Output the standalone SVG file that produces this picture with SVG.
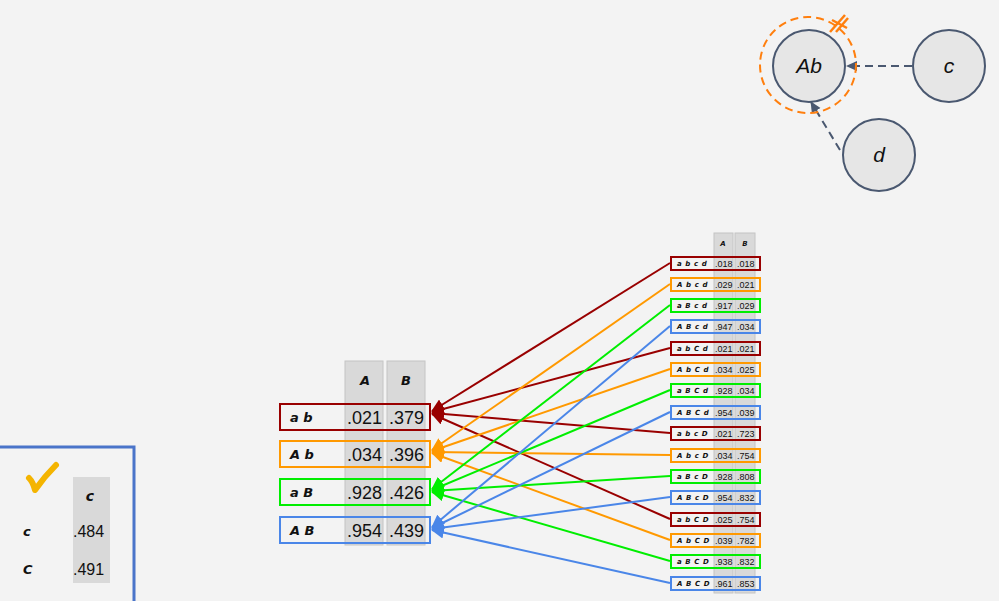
<svg xmlns="http://www.w3.org/2000/svg" width="999" height="601" viewBox="0 0 999 601">
<style>
.lbl{font-family:"DejaVu Sans",sans-serif;font-weight:bold;font-style:italic;fill:#111}
.num{font-family:"Liberation Sans",Arial,sans-serif;fill:#111}
.col{fill:#d9d9d9;stroke:#c4c4c4}
.nd{fill:#e6e6e6;stroke:#4a5870;stroke-width:2}
.nt{font-family:"Liberation Sans",Arial,sans-serif;font-style:italic;font-size:21px;fill:#111;text-anchor:middle}
.sl{font-family:"DejaVu Sans",sans-serif;font-weight:bold;font-style:italic;fill:#111;font-size:7px;letter-spacing:0.6px}
</style>
<defs>
<marker id="mr" markerWidth="13" markerHeight="12" refX="12" refY="6" orient="auto" markerUnits="userSpaceOnUse" viewBox="0 0 13 12"><path d="M0,0L13,6L0,12z" fill="#990000"/></marker>
<marker id="mo" markerWidth="13" markerHeight="12" refX="12" refY="6" orient="auto" markerUnits="userSpaceOnUse" viewBox="0 0 13 12"><path d="M0,0L13,6L0,12z" fill="#ff9900"/></marker>
<marker id="mg" markerWidth="13" markerHeight="12" refX="12" refY="6" orient="auto" markerUnits="userSpaceOnUse" viewBox="0 0 13 12"><path d="M0,0L13,6L0,12z" fill="#00ee00"/></marker>
<marker id="mb" markerWidth="13" markerHeight="12" refX="12" refY="6" orient="auto" markerUnits="userSpaceOnUse" viewBox="0 0 13 12"><path d="M0,0L13,6L0,12z" fill="#4a86e8"/></marker>
<marker id="md" markerWidth="12" markerHeight="12" refX="10" refY="6" orient="auto" markerUnits="userSpaceOnUse" viewBox="0 0 12 12"><path d="M0,1L11,6L0,11z" fill="#4a5870"/></marker>
</defs>
<rect width="999" height="601" fill="#f3f3f3"/>

<g id="big-table">
<rect class="col" x="345" y="361" width="38" height="184"/>
<rect class="col" x="387" y="361" width="38" height="184"/>
<text class="lbl" x="365" y="385" font-size="13" text-anchor="middle">A</text>
<text class="lbl" x="406" y="385" font-size="13" text-anchor="middle">B</text>
<g id="r-ab"><rect x="280" y="404" width="150" height="26" fill="none" stroke="#990000" stroke-width="2"/><text class="lbl" x="290" y="422" font-size="13">a b</text><text class="num" x="347" y="424" font-size="18">.021</text><text class="num" x="389" y="424" font-size="18">.379</text></g>
<g id="r-Ab"><rect x="280" y="441" width="150" height="26" fill="none" stroke="#ff9900" stroke-width="2"/><text class="lbl" x="290" y="459" font-size="13">A b</text><text class="num" x="347" y="461" font-size="18">.034</text><text class="num" x="389" y="461" font-size="18">.396</text></g>
<g id="r-aB"><rect x="280" y="479" width="150" height="26" fill="none" stroke="#00ee00" stroke-width="2"/><text class="lbl" x="290" y="497" font-size="13">a B</text><text class="num" x="347" y="499" font-size="18">.928</text><text class="num" x="389" y="499" font-size="18">.426</text></g>
<g id="r-AB"><rect x="280" y="517" width="150" height="26" fill="none" stroke="#4a86e8" stroke-width="2"/><text class="lbl" x="290" y="535" font-size="13">A B</text><text class="num" x="347" y="537" font-size="18">.954</text><text class="num" x="389" y="537" font-size="18">.439</text></g>
</g>

<g id="small-table">
<rect class="col" x="714" y="233" width="19" height="360"/>
<rect class="col" x="735" y="233" width="20" height="360"/>
<text class="lbl" x="723" y="246" font-size="7" text-anchor="middle">A</text>
<text class="lbl" x="745" y="246" font-size="7" text-anchor="middle">B</text>
<g id="s1"><rect x="671" y="257" width="89" height="13" fill="none" stroke="#990000" stroke-width="2"/><text class="sl" x="677" y="266">a b c d</text><text class="num" x="715" y="267" font-size="9">.018</text><text class="num" x="737" y="267" font-size="9">.018</text></g>
<g id="s2"><rect x="671" y="278" width="89" height="13" fill="none" stroke="#ff9900" stroke-width="2"/><text class="sl" x="677" y="287">A b c d</text><text class="num" x="715" y="288" font-size="9">.029</text><text class="num" x="737" y="288" font-size="9">.021</text></g>
<g id="s3"><rect x="671" y="299" width="89" height="13" fill="none" stroke="#00ee00" stroke-width="2"/><text class="sl" x="677" y="308">a B c d</text><text class="num" x="715" y="309" font-size="9">.917</text><text class="num" x="737" y="309" font-size="9">.029</text></g>
<g id="s4"><rect x="671" y="320" width="89" height="13" fill="none" stroke="#4a86e8" stroke-width="2"/><text class="sl" x="677" y="329">A B c d</text><text class="num" x="715" y="330" font-size="9">.947</text><text class="num" x="737" y="330" font-size="9">.034</text></g>
<g id="s5"><rect x="671" y="342" width="89" height="13" fill="none" stroke="#990000" stroke-width="2"/><text class="sl" x="677" y="351">a b C d</text><text class="num" x="715" y="352" font-size="9">.021</text><text class="num" x="737" y="352" font-size="9">.021</text></g>
<g id="s6"><rect x="671" y="363" width="89" height="13" fill="none" stroke="#ff9900" stroke-width="2"/><text class="sl" x="677" y="372">A b C d</text><text class="num" x="715" y="373" font-size="9">.034</text><text class="num" x="737" y="373" font-size="9">.025</text></g>
<g id="s7"><rect x="671" y="384" width="89" height="13" fill="none" stroke="#00ee00" stroke-width="2"/><text class="sl" x="677" y="393">a B C d</text><text class="num" x="715" y="394" font-size="9">.928</text><text class="num" x="737" y="394" font-size="9">.034</text></g>
<g id="s8"><rect x="671" y="406" width="89" height="13" fill="none" stroke="#4a86e8" stroke-width="2"/><text class="sl" x="677" y="415">A B C d</text><text class="num" x="715" y="416" font-size="9">.954</text><text class="num" x="737" y="416" font-size="9">.039</text></g>
<g id="s9"><rect x="671" y="427" width="89" height="13" fill="none" stroke="#990000" stroke-width="2"/><text class="sl" x="677" y="436">a b c D</text><text class="num" x="715" y="437" font-size="9">.021</text><text class="num" x="737" y="437" font-size="9">.723</text></g>
<g id="s10"><rect x="671" y="449" width="89" height="13" fill="none" stroke="#ff9900" stroke-width="2"/><text class="sl" x="677" y="458">A b c D</text><text class="num" x="715" y="459" font-size="9">.034</text><text class="num" x="737" y="459" font-size="9">.754</text></g>
<g id="s11"><rect x="671" y="470" width="89" height="13" fill="none" stroke="#00ee00" stroke-width="2"/><text class="sl" x="677" y="479">a B c D</text><text class="num" x="715" y="480" font-size="9">.928</text><text class="num" x="737" y="480" font-size="9">.808</text></g>
<g id="s12"><rect x="671" y="491" width="89" height="13" fill="none" stroke="#4a86e8" stroke-width="2"/><text class="sl" x="677" y="500">A B c D</text><text class="num" x="715" y="501" font-size="9">.954</text><text class="num" x="737" y="501" font-size="9">.832</text></g>
<g id="s13"><rect x="671" y="513" width="89" height="13" fill="none" stroke="#990000" stroke-width="2"/><text class="sl" x="677" y="522">a b C D</text><text class="num" x="715" y="523" font-size="9">.025</text><text class="num" x="737" y="523" font-size="9">.754</text></g>
<g id="s14"><rect x="671" y="534" width="89" height="13" fill="none" stroke="#ff9900" stroke-width="2"/><text class="sl" x="677" y="543">A b C D</text><text class="num" x="715" y="544" font-size="9">.039</text><text class="num" x="737" y="544" font-size="9">.782</text></g>
<g id="s15"><rect x="671" y="555" width="89" height="13" fill="none" stroke="#00ee00" stroke-width="2"/><text class="sl" x="677" y="564">a B C D</text><text class="num" x="715" y="565" font-size="9">.938</text><text class="num" x="737" y="565" font-size="9">.832</text></g>
<g id="s16"><rect x="671" y="577" width="89" height="13" fill="none" stroke="#4a86e8" stroke-width="2"/><text class="sl" x="677" y="586">A B C D</text><text class="num" x="715" y="587" font-size="9">.961</text><text class="num" x="737" y="587" font-size="9">.853</text></g>
</g>

<g id="connectors" stroke-width="2" fill="none">
<g stroke="#990000" marker-end="url(#mr)">
<line x1="670" y1="263" x2="432" y2="411"/><line x1="670" y1="348" x2="432" y2="412"/><line x1="670" y1="433" x2="432" y2="413"/><line x1="670" y1="519" x2="432" y2="414"/>
</g>
<g stroke="#ff9900" marker-end="url(#mo)">
<line x1="670" y1="284" x2="432" y2="450"/><line x1="670" y1="369" x2="432" y2="451"/><line x1="670" y1="455" x2="432" y2="452"/><line x1="670" y1="540" x2="432" y2="453"/>
</g>
<g stroke="#00ee00" marker-end="url(#mg)">
<line x1="670" y1="305" x2="432" y2="489"/><line x1="670" y1="390" x2="432" y2="490"/><line x1="670" y1="476" x2="432" y2="491"/><line x1="670" y1="561" x2="432" y2="492"/>
</g>
<g stroke="#4a86e8" marker-end="url(#mb)">
<line x1="670" y1="326" x2="432" y2="527"/><line x1="670" y1="412" x2="432" y2="528"/><line x1="670" y1="497" x2="432" y2="529"/><line x1="670" y1="583" x2="432" y2="530"/>
</g>
<g stroke="#4a5870" stroke-dasharray="8,5">
<line x1="912" y1="66" x2="847" y2="66" marker-end="url(#md)"/>
<line x1="840" y1="150" x2="811" y2="102" marker-end="url(#md)"/>
</g>
</g>

<g id="node-Ab">
<circle cx="808" cy="65" r="48" fill="none" stroke="#ff7f0e" stroke-width="2" stroke-dasharray="8,5"/>
<circle class="nd" cx="809" cy="66" r="36"/>
<text class="nt" x="809" y="73">Ab</text>
<g stroke="#ff7f0e" stroke-width="2.5"><line x1="830" y1="32" x2="845" y2="15"/><line x1="836" y1="32" x2="848" y2="18"/><line x1="832" y1="20" x2="847" y2="28"/></g>
</g>
<g id="node-c"><circle class="nd" cx="949" cy="66" r="36"/><text class="nt" x="949" y="73">c</text></g>
<g id="node-d"><circle class="nd" cx="879" cy="155" r="36"/><text class="nt" x="879" y="162">d</text></g>

<g id="legend">
<path d="M0,447H134V601" fill="none" stroke="#4a74c9" stroke-width="3"/>
<path d="M29,478C32,481 34,486 35,490C42,480 49,472 56,465" fill="none" stroke="#f4b400" stroke-width="6" stroke-linecap="round" stroke-linejoin="round"/>
<rect x="73" y="477" width="37" height="106" fill="#d9d9d9"/>
<text class="lbl" x="90" y="501" font-size="14" text-anchor="middle">c</text>
<text class="lbl" x="23" y="536" font-size="13">c</text>
<text class="lbl" x="23" y="574" font-size="13">C</text>
<text class="num" x="73" y="537" font-size="16">.484</text>
<text class="num" x="73" y="575" font-size="16">.491</text>
</g>
</svg>
